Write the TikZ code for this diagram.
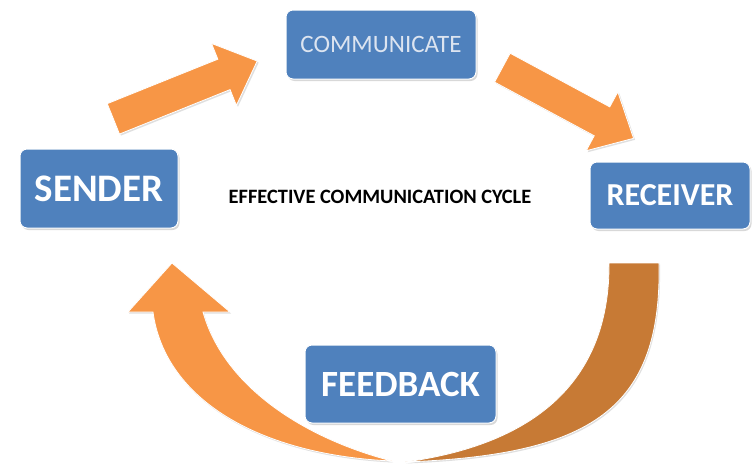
\documentclass[tikz,border=0pt]{standalone}
\usepackage{fontspec}
\setmainfont{Carlito}
\usetikzlibrary{shapes.arrows, shadows}
\definecolor{boxfill}{HTML}{4F81BD}
\definecolor{boxtext}{HTML}{DCE4F0}
\definecolor{arrfill}{HTML}{F79646}
\definecolor{arrdark}{HTML}{C77A35}
\tikzset{
  blk/.style    = {rectangle, rounded corners=7pt, draw=white, line width=1pt, fill=boxfill,
                   text=white, align=center, inner sep=0pt,
                   drop shadow={shadow xshift=1.5pt, shadow yshift=-2pt, opacity=0.3}},
  bigarr/.style = {single arrow, fill=arrfill, draw=white, line width=0.8pt, anchor=tail,
                   inner xsep=0pt, inner ysep=16pt, single arrow head extend=17pt,
                   single arrow tip angle=86,
                   drop shadow={shadow xshift=1.5pt, shadow yshift=-1.5pt, opacity=0.25}},
  curvarr/.style= {draw=white, line width=0.8pt,
                   drop shadow={shadow xshift=1pt, shadow yshift=-1.5pt, opacity=0.25}},
  ttl/.style    = {font=\fontsize{20.4}{24}\selectfont\bfseries, text=black},
}
\begin{document}
\begin{tikzpicture}[x=1pt, y=-1pt]
  \path[fill=white, use as bounding box] (0,0) rectangle (752,463);
  % boxes
  \node[blk, minimum width=158pt, minimum height=79pt, font=\fontsize{39}{44}\selectfont\bfseries] (sender) at (99,188.5) {SENDER};
  \node[blk, minimum width=190pt, minimum height=69pt, font=\fontsize{25}{30}\selectfont, text=boxtext] (comm) at (381,44.5) {COMMUNICATE};
  \node[blk, minimum width=160pt, minimum height=67pt, font=\fontsize{32}{38}\selectfont\bfseries] (recv) at (670,195.5) {RECEIVER};
  \node[blk, minimum width=191pt, minimum height=78pt, font=\fontsize{37}{42}\selectfont\bfseries] (fb) at (400.5,384) {FEEDBACK};
  \node[ttl] (title) at (380,197) {EFFECTIVE COMMUNICATION CYCLE};
  % straight arrows
  \node[bigarr, minimum height=155pt, rotate=21.9] (a1) at (113,119) {};
  \node[bigarr, minimum height=149pt, rotate=-28.3] (a2) at (502,67.5) {};
  % curved arrows
  \coordinate (bt) at (392,461);
  \coordinate (rt) at (405,462);
  \fill[arrdark, curvarr] (609,263) -- (659,263) .. controls (662,410) and (590,455) .. (rt)
    .. controls (530,445) and (610,385) .. cycle;
  \fill[arrfill, curvarr] (203,312) -- (230,312) -- (172,263) -- (128,312) -- (153,312)
    .. controls (165,400) and (260,455) .. (bt)
    .. controls (310,440) and (225,390) .. cycle;
\end{tikzpicture}
\end{document}
